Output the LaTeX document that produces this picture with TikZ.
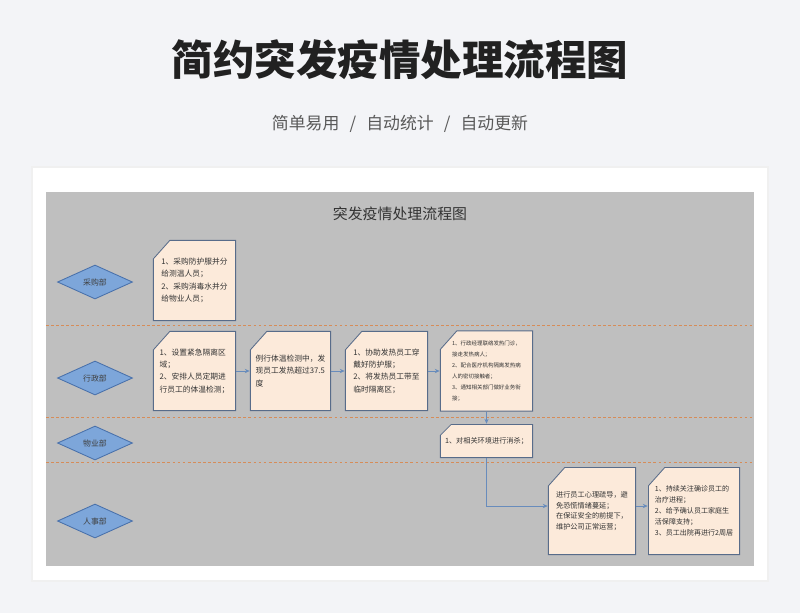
\documentclass[tikz,border=0pt]{standalone}
\usepackage{fontspec}
\setmainfont{Noto Sans CJK SC}
\usetikzlibrary{shapes, arrows.meta, positioning, calc}
\definecolor{pagebg}{RGB}{243, 244, 247}
\definecolor{lanegray}{RGB}{191, 191, 191}
\definecolor{notefill}{RGB}{252, 234, 218}
\definecolor{noteline}{RGB}{88, 108, 138}
\definecolor{deptblue}{RGB}{125, 166, 218}
\definecolor{deptline}{RGB}{72, 112, 170}
\definecolor{lanedash}{RGB}{214, 140, 88}
\definecolor{flowblue}{RGB}{104, 140, 188}

\begin{document}
\begin{tikzpicture}[x=0.025cm, y=-0.025cm,
  note/.style 2 args={rectangle, align=left, text=black!80, inner sep=1pt,
               path picture={
                 \draw[noteline, fill=notefill, line width=0.6pt]
                   ([shift={(#1,-0.3pt)}]path picture bounding box.north west)
                   -- ([shift={(-0.3pt,-0.3pt)}]path picture bounding box.north east)
                   -- ([shift={(-0.3pt,0.3pt)}]path picture bounding box.south east)
                   -- ([shift={(0.3pt,0.3pt)}]path picture bounding box.south west)
                   -- ([shift={(0.3pt,-#2)}]path picture bounding box.north west)
                   -- cycle;}},
  dept/.style={diamond, draw=deptline, fill=deptblue, line width=0.6pt,
               minimum width=1.875cm, minimum height=0.85cm, inner sep=0pt,
               font=\fontsize{5.6}{6}\selectfont, text=black!75},
  lane/.style={lanedash, dash pattern=on 2pt off 1.6pt, line width=0.7pt},
  arr/.style={-{Stealth[length=3.5pt, width=3pt]}, flowblue, line width=0.6pt}
]
  % page, card and swimlane area
  \fill[pagebg] (0,0) rectangle (800,613);
  \node[font=\fontsize{29.5}{34}\selectfont\bfseries, text=black!87] (maintitle) at (400,60)
    {简约突发疫情处理流程图};
  \node[font=\fontsize{12}{14}\selectfont, text=black!65] (subtitle) at (400,124)
    {简单易用\hspace{0.6em}/\hspace{0.6em}自动统计\hspace{0.6em}/\hspace{0.6em}自动更新};
  \fill[black!6] (31,166) rectangle (769,582);
  \fill[white] (33,168) rectangle (767,580);
  \fill[lanegray] (46,192) rectangle (754,566);
  \node[font=\fontsize{10.6}{12}\selectfont, text=black!80] (charttitle) at (400,214)
    {突发疫情处理流程图};

  \draw[lane] (46,325) -- (754,325);
  \draw[lane] (46,417) -- (754,417);
  \draw[lane] (46,462) -- (754,462);

  % departments
  \node[dept] (cg) at (95,282) {采购部};
  \node[dept] (xz) at (95,378) {行政部};
  \node[dept] (wy) at (95,443) {物业部};
  \node[dept] (rs) at (95,521) {人事部};

  % steps
  \node[note={0.42cm}{0.47cm}, minimum width=2.075cm, minimum height=2.025cm,
        font=\fontsize{5.5}{8.8}\selectfont] (b1) at (194.5,280.5)
    {1、采购防护服并分\\给测温人员；\\2、采购消毒水并分\\给物业人员；};

  \node[note={0.42cm}{0.47cm}, minimum width=2.075cm, minimum height=2cm,
        font=\fontsize{5.5}{8.8}\selectfont] (b2) at (194.5,371)
    {1、设置紧急隔离区\\域；\\2、安排人员定期进\\行员工的体温检测；};

  \node[note={0.42cm}{0.47cm}, minimum width=2.025cm, minimum height=2cm,
        font=\fontsize{5.5}{8.8}\selectfont] (b3) at (290.5,371)
    {例行体温检测中，发\\现员工发热超过37.5\\度};

  \node[note={0.42cm}{0.47cm}, minimum width=2.075cm, minimum height=2cm,
        font=\fontsize{5.5}{8.8}\selectfont] (b4) at (386.5,371)
    {1、协助发热员工穿\\戴好防护服；\\2、将发热员工带至\\临时隔离区；};

  \node[note={0.42cm}{0.47cm}, minimum width=2.325cm, minimum height=2.025cm,
        font=\fontsize{3.9}{7.8}\selectfont] (b5) at (486.5,371)
    {1、行政经理联络发热门诊，\\接走发热病人；\\2、配合医疗机构隔离发热病\\人的密切接触者；\\3、通知相关部门做好业务衔\\接；};

  \node[note={0.28cm}{0.28cm}, minimum width=2.325cm, minimum height=0.85cm,
        font=\fontsize{5.1}{6}\selectfont] (b6) at (486.5,441)
    {1、对相关环境进行消杀；};

  \node[note={0.42cm}{0.47cm}, minimum width=2.2cm, minimum height=2.2cm,
        font=\fontsize{5.1}{7.6}\selectfont] (b7) at (592,511)
    {进行员工心理疏导，避\\免恐慌情绪蔓延；\\在保证安全的前提下，\\维护公司正常运营；};

  \node[note={0.42cm}{0.47cm}, minimum width=2.3cm, minimum height=2.2cm,
        font=\fontsize{5}{7.8}\selectfont] (b8) at (694,511)
    {1、持续关注确诊员工的\\治疗进程；\\2、给予确认员工家庭生\\活保障支持；\\3、员工出院再进行2周居};

  % flow
  \draw[arr] (b2) -- (b3);
  \draw[arr] (b3) -- (b4);
  \draw[arr] (b4) -- (b5);
  \draw[arr] (b5) -- (b6);
  \draw[arr] (b6.south) |- ($(b7.west)+(0,-5)$);
  \draw[arr] ($(b7.east)+(0,-5)$) -- ($(b8.west)+(0,-5)$);
\end{tikzpicture}
\end{document}
